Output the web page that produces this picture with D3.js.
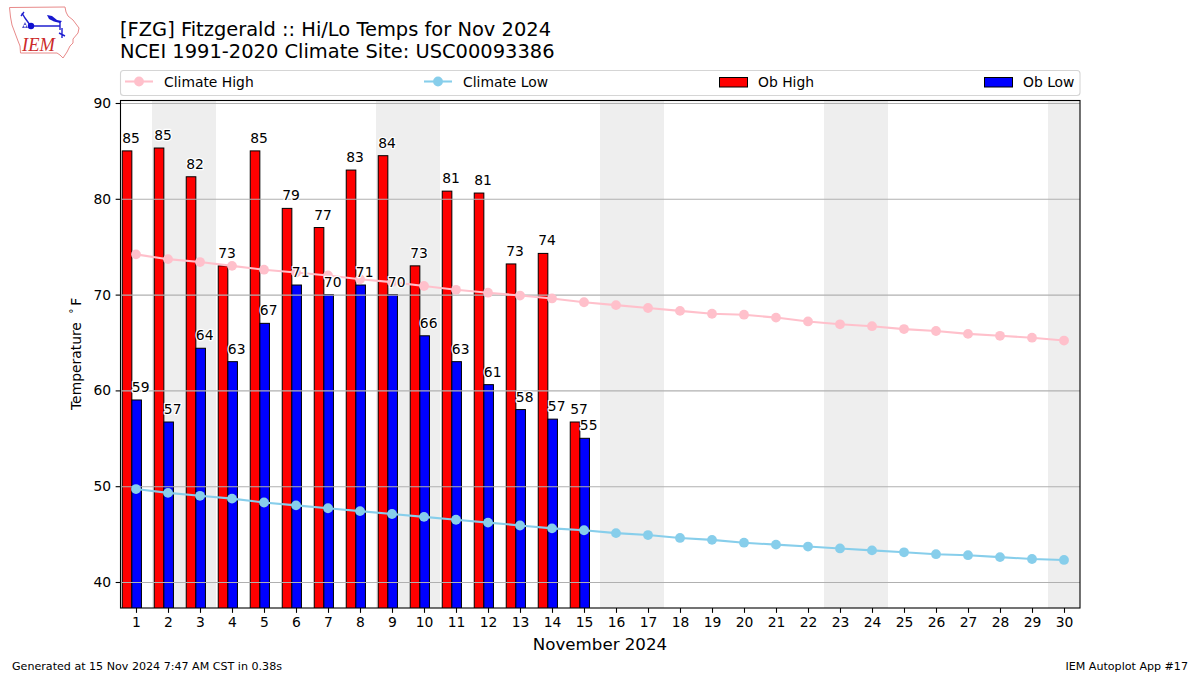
<!DOCTYPE html>
<html><head><meta charset="utf-8">
<script src="https://cdn.jsdelivr.net/npm/d3@7"></script>
<style>html,body{margin:0;padding:0;background:#fff}svg{display:block}text{font-family:"DejaVu Sans";fill:#000}</style>
</head><body><svg id="c" width="1200" height="675"></svg>
<script>
const days = d3.range(1,31);
const obHigh = [85,85.3,82.3,73,85,79,77,83,84.5,73,80.8,80.6,73.2,74.3,56.7];
const obLow = [59,56.7,64.4,63,67,71,70,71,70,65.7,63,60.6,58,57,55];
const obHighLabels = [85,85,82,73,85,79,77,83,84,73,81,81,73,74,57];
const obLowLabels = [59,57,64,63,67,71,70,71,70,66,63,61,58,57,55];
const climateHigh = [74.2,73.7,73.4,73.0,72.6,72.3,72.0,71.6,71.3,70.9,70.5,70.2,69.9,69.6,69.2,68.9,68.6,68.3,68.0,67.9,67.6,67.2,66.9,66.7,66.4,66.2,65.9,65.7,65.5,65.2];
const climateLow = [49.7,49.3,49.0,48.7,48.3,48.0,47.7,47.4,47.1,46.8,46.5,46.2,45.9,45.6,45.4,45.1,44.9,44.6,44.4,44.1,43.9,43.7,43.5,43.3,43.1,42.9,42.8,42.6,42.4,42.3];
const weekendSpans = [[1.5,3.5],[8.5,10.5],[15.5,17.5],[22.5,24.5],[29.5,30.5]];
const yTicks = [40,50,60,70,80,90];

const svg = d3.select("#c");
const L=120.5,R=1080,T=100.5,B=608;
const x = d3.scaleLinear().domain([0.5,30.5]).range([120,1080]);
const y = d3.scaleLinear().domain([40,90]).range([582,103]);
const barW = 0.3, hiOff=-0.43, loOff=-0.13;

svg.append("defs").append("clipPath").attr("id","ax").append("rect")
  .attr("x",L).attr("y",T).attr("width",R-L).attr("height",B-T);
const plot = svg.append("g").attr("clip-path","url(#ax)");

plot.selectAll("rect.wk").data(weekendSpans).join("rect").attr("class","wk")
  .attr("x",d=>x(d[0])).attr("width",d=>x(d[1])-x(d[0]))
  .attr("y",T).attr("height",B-T).attr("fill","#eeeeee");

function bars(vals,off,color){
  plot.selectAll(null).data(vals).join("rect")
   .attr("x",(d,i)=>x(days[i]+off)).attr("width",x(barW)-x(0))
   .attr("y",d=>y(d)).attr("height",d=>B+5-y(d))
   .attr("fill",color).attr("stroke","#000").attr("stroke-width",1);
}
bars(obHigh,hiOff,"#ff0000");
bars(obLow,loOff,"#0000ff");

plot.selectAll("line.g").data(yTicks).join("line").attr("class","g")
  .attr("x1",L).attr("x2",R).attr("y1",d=>y(d)+.5).attr("y2",d=>y(d)+.5)
  .attr("stroke","#b0b0b0").attr("stroke-width",1.1);

function series(vals,color){
  const line=d3.line().x((d,i)=>x(days[i])).y(d=>y(d));
  plot.append("path").attr("d",line(vals)).attr("fill","none").attr("stroke",color).attr("stroke-width",2.08);
  plot.selectAll(null).data(vals).join("circle").attr("cx",(d,i)=>x(days[i])).attr("cy",d=>y(d)).attr("r",4.9).attr("fill",color);
}
series(climateHigh,"#ffc0cb");
series(climateLow,"#87ceeb");

function labels(vals,texts,off){
  plot.selectAll(null).data(vals).join("text")
   .attr("x",(d,i)=>x(days[i]+off)).attr("y",d=>y(d)-8)
   .attr("font-size",13.89).attr("stroke","#fff").attr("stroke-width",2.5).attr("paint-order","stroke").attr("stroke-linejoin","round")
   .text((d,i)=>texts[i]);
}
labels(obHigh,obHighLabels,hiOff);
labels(obLow,obLowLabels,loOff);

const xAxis = d3.axisBottom(x).tickValues(days).tickFormat(d3.format("d")).tickSize(4.86).tickPadding(4.5);
const yAxis = d3.axisLeft(y).tickValues(yTicks).tickFormat(d3.format("d")).tickSize(4.86).tickPadding(4.5);
const gx = svg.append("g").attr("transform",`translate(0,${B})`).call(xAxis);
const gy = svg.append("g").attr("transform",`translate(${L},0)`).call(yAxis);
[gx,gy].forEach(g=>{g.select(".domain").remove();g.selectAll("text").attr("font-size",13.89).attr("font-family","DejaVu Sans");g.selectAll("line").attr("stroke","#000").attr("stroke-width",1.1);});
gy.selectAll(".tick").attr("transform",d=>`translate(0,${y(d)+.5})`);

svg.append("rect").attr("x",L).attr("y",T).attr("width",R-L).attr("height",B-T).attr("fill","none").attr("stroke","#000").attr("stroke-width",1.1);

svg.append("text").attr("x",120).attr("y",36).attr("font-size",19.44).text("[FZG] Fitzgerald :: Hi/Lo Temps for Nov 2024");
svg.append("text").attr("x",120).attr("y",58).attr("font-size",19.44).text("NCEI 1991-2020 Climate Site: USC00093386");
svg.append("text").attr("x",600).attr("y",650).attr("text-anchor","middle").attr("font-size",16.67).text("November 2024");
svg.append("text").attr("transform","translate(81,410) rotate(-90)").attr("font-size",13.89).text("Temperature");
svg.append("text").attr("transform","translate(81,311) rotate(-90)").attr("text-anchor","middle").attr("dy",-4.5).attr("font-size",9.7).text("\u00b0");
svg.append("text").attr("transform","translate(81,305.7) rotate(-90)").attr("font-size",13.89).text("F");
svg.append("text").attr("x",12).attr("y",670).attr("font-size",11.1).text("Generated at 15 Nov 2024 7:47 AM CST in 0.38s");
svg.append("text").attr("x",1188).attr("y",670).attr("text-anchor","end").attr("font-size",11.1).text("IEM Autoplot App #17");

// legend
svg.append("rect").attr("x",120.5).attr("y",70.5).attr("width",959.5).attr("height",25).attr("rx",3).attr("fill","#fff").attr("stroke","#d5d5d5").attr("stroke-width",1.1);
const lg = svg.append("g");
function legLine(x0,color,t){
  lg.append("line").attr("x1",x0).attr("x2",x0+28).attr("y1",81.5).attr("y2",81.5).attr("stroke",color).attr("stroke-width",2.08);
  lg.append("circle").attr("cx",x0+14).attr("cy",81.5).attr("r",4.9).attr("fill",color);
  lg.append("text").attr("x",x0+39).attr("y",86.5).attr("font-size",13.89).text(t);
}
function legBar(x0,color,t){
  lg.append("rect").attr("x",x0+.5).attr("y",77.5).attr("width",28).attr("height",9.5).attr("fill",color).attr("stroke","#000").attr("stroke-width",1);
  lg.append("text").attr("x",x0+39).attr("y",86.5).attr("font-size",13.89).text(t);
}
legLine(125,"#ffc0cb","Climate High");
legLine(424,"#87ceeb","Climate Low");
legBar(719,"#ff0000","Ob High");
legBar(984,"#0000ff","Ob Low");

// logo
const logo = svg.append("g");
logo.append("path").attr("d","M9.5 7.5L65 7L66 12L68 16L73 20L79 28L78 33L73 39L73 43L70 46L67 52L63 58L60 55L57 53L20.5 53L20 46L18 41L15 33L12 25L10.5 17Z")
  .attr("fill","#fff").attr("stroke","#e88a8a").attr("stroke-width",1);
logo.append("path").attr("d","M31 26H60M22 13L25 18L30 25M21 16L24 12M60 21V30M62 28V38M59 33L65 36")
  .attr("fill","none").attr("stroke","#2020d0").attr("stroke-width",1.4);
logo.append("path").attr("d","M47 15L52 16L57 20L62 21L60 23L54 21.5L49 19Z").attr("fill","#1818d0");
logo.append("circle").attr("cx",31).attr("cy",26).attr("r",3.2).attr("fill","#1010d0");
logo.append("path").attr("d","M22 28l1.5-3 1.5 3zM25 28l1.5-3 1.5 3zM23.5 25l1.5-3 1.5 3z").attr("fill","#5555cc");
logo.append("text").attr("x",22).attr("y",51).attr("font-size",18.5).attr("font-style","italic").attr("style","font-family:'Liberation Serif';fill:#cc2a2a").text("IEM");
</script></body></html>
